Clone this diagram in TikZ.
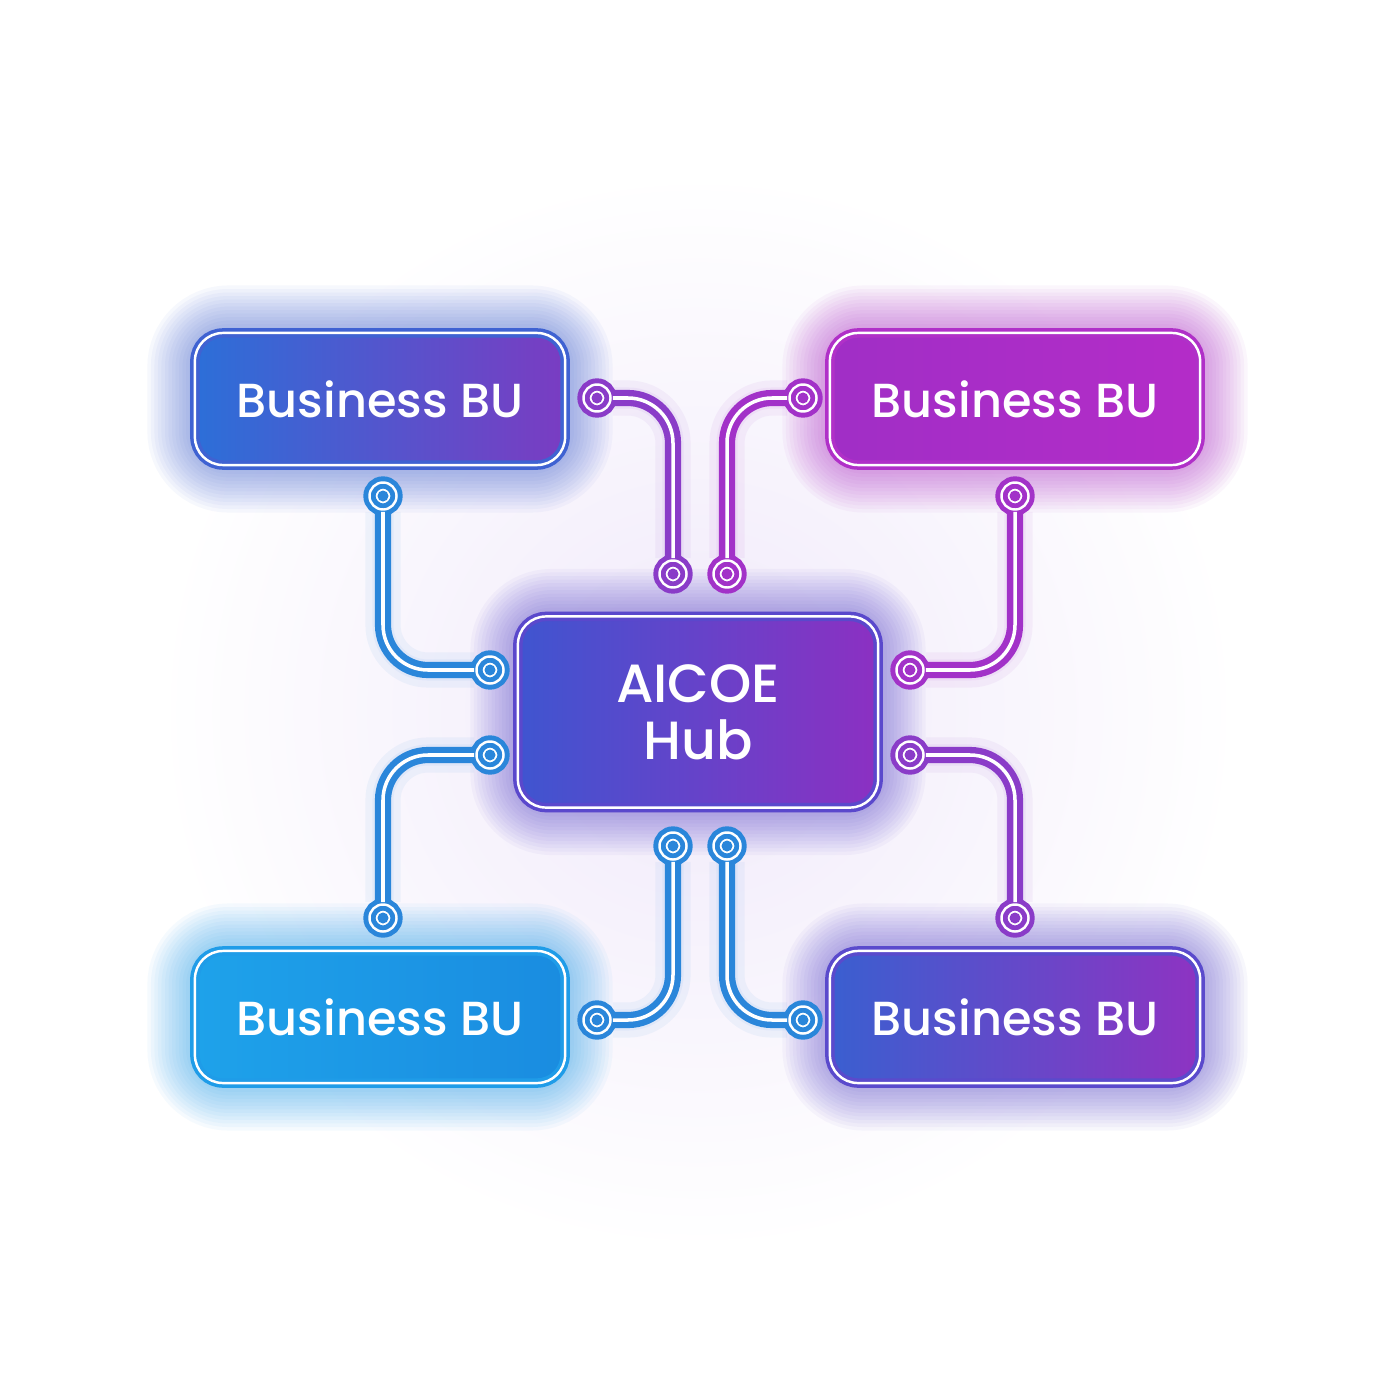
\documentclass[tikz,border=0pt]{standalone}
\usepackage{fontspec}
\newfontfamily\bufont{Poppins Medium}
\usetikzlibrary{backgrounds}
\definecolor{tlleft}{HTML}{2C6FD8}
\definecolor{tlright}{HTML}{7A3CC2}
\definecolor{tledge}{HTML}{3F62D2}
\definecolor{trleft}{HTML}{A02EC6}
\definecolor{trright}{HTML}{B42CC8}
\definecolor{tredge}{HTML}{B030C8}
\definecolor{blleft}{HTML}{1EA2EA}
\definecolor{blright}{HTML}{1A8CE0}
\definecolor{bledge}{HTML}{1F9CE8}
\definecolor{brleft}{HTML}{3A5FD0}
\definecolor{brright}{HTML}{8E33C2}
\definecolor{bredge}{HTML}{5A4ACC}
\definecolor{hubleft}{HTML}{3F55D0}
\definecolor{hubright}{HTML}{8C30C2}
\definecolor{hubedge}{HTML}{5A48CC}
\definecolor{wireblue}{HTML}{2A86DA}
\definecolor{wireviolet}{HTML}{8A3CC8}
\definecolor{wiremagenta}{HTML}{A232C8}
\definecolor{haze}{HTML}{F0E9FA}
\tikzstyle{box}=[rectangle, rounded corners=8pt, double=white, line width=1pt,
    double distance=0.7pt, text=white, font=\bufont\fontsize{13.6}{17}\selectfont]
\tikzset{
    bu/.style={box, minimum width=3.7cm, minimum height=1.32cm},
    pad/.style={circle, inner sep=0pt, minimum size=0.27cm, fill=white, draw=#1,
        double=white, line width=1.4pt, double distance=0.7pt,
        path picture={\fill[#1] (path picture bounding box.center) circle (0.055cm);}},
    trace/.style={draw=#1, double=white, line width=1.8pt, double distance=1pt,
        rounded corners=0.45cm}
}
\newcommand{\bu}{\node[bu]}
\newcommand{\pad}[1]{\node[pad=#1]}

\begin{document}
\begin{tikzpicture}[x=0.01cm, y=-0.01cm]
\useasboundingbox (0,0) rectangle (1400,1400);

% business units and the hub
\bu[draw=tledge, left color=tlleft, right color=tlright] (tl) at (380,399) {Business BU};
\bu[draw=tredge, left color=trleft, right color=trright] (tr) at (1015,399) {Business BU};
\bu[draw=bledge, left color=blleft, right color=blright] (bl) at (380,1017) {Business BU};
\bu[draw=bredge, left color=brleft, right color=brright] (br) at (1015,1017) {Business BU};
\node[box, draw=hubedge, left color=hubleft, right color=hubright, minimum width=3.6cm,
    minimum height=1.91cm, align=center, font=\bufont\fontsize{15.3}{16.3}\selectfont]
    (hub) at (698,712) {AICOE\\Hub};

% pads
\pad{wireviolet} (tl-r) at (597,398) {};
\pad{wireblue} (tl-b) at (383,496) {};
\pad{wiremagenta} (tr-l) at (803,398) {};
\pad{wiremagenta} (tr-b) at (1015,496) {};
\pad{wireblue} (bl-t) at (383,918) {};
\pad{wireblue} (bl-r) at (597,1020) {};
\pad{wireviolet} (br-t) at (1015,918) {};
\pad{wireblue} (br-l) at (803,1020) {};
\pad{wireviolet} (hub-t1) at (673,574) {};
\pad{wiremagenta} (hub-t2) at (727,574) {};
\pad{wireblue} (hub-l1) at (490,670) {};
\pad{wireblue} (hub-l2) at (490,755) {};
\pad{wiremagenta} (hub-r1) at (910,670) {};
\pad{wireviolet} (hub-r2) at (910,755) {};
\pad{wireblue} (hub-b1) at (673,846) {};
\pad{wireblue} (hub-b2) at (727,846) {};

% traces
\draw[trace=wireviolet] (tl-r) -| (hub-t1);
\draw[trace=wiremagenta] (tr-l) -| (hub-t2);
\draw[trace=wireblue] (tl-b) |- (hub-l1);
\draw[trace=wiremagenta] (tr-b) |- (hub-r1);
\draw[trace=wireblue] (bl-t) |- (hub-l2);
\draw[trace=wireviolet] (br-t) |- (hub-r2);
\draw[trace=wireblue] (bl-r) -| (hub-b1);
\draw[trace=wireblue] (br-l) -| (hub-b2);

% background, haze and glow
\begin{pgfonlayer}{background}
\fill[white] (0,0) rectangle (1400,1400);
\shade[inner color=haze, outer color=white] (698,712) circle (540);
\foreach \n/\c in {tl/tledge, tr/tredge, bl/bledge, br/bredge, hub/hubedge}{
    \foreach \w in {2,4,...,26}
        \draw[\c, line width=\w pt, opacity=.045, rounded corners=10pt]
            (\n.south west) rectangle (\n.north east);
}
\foreach \a/\b/\c in {tl-r/hub-t1/wireviolet, tr-l/hub-t2/wiremagenta,
        bl-r/hub-b1/wireblue, br-l/hub-b2/wireblue}
    \foreach \w in {6,10}
        \draw[\c, line width=\w pt, opacity=.06, rounded corners=0.45cm] (\a) -| (\b);
\foreach \a/\b/\c in {tl-b/hub-l1/wireblue, tr-b/hub-r1/wiremagenta,
        bl-t/hub-l2/wireblue, br-t/hub-r2/wireviolet}
    \foreach \w in {6,10}
        \draw[\c, line width=\w pt, opacity=.06, rounded corners=0.45cm] (\a) |- (\b);
\end{pgfonlayer}
\end{tikzpicture}
\end{document}
